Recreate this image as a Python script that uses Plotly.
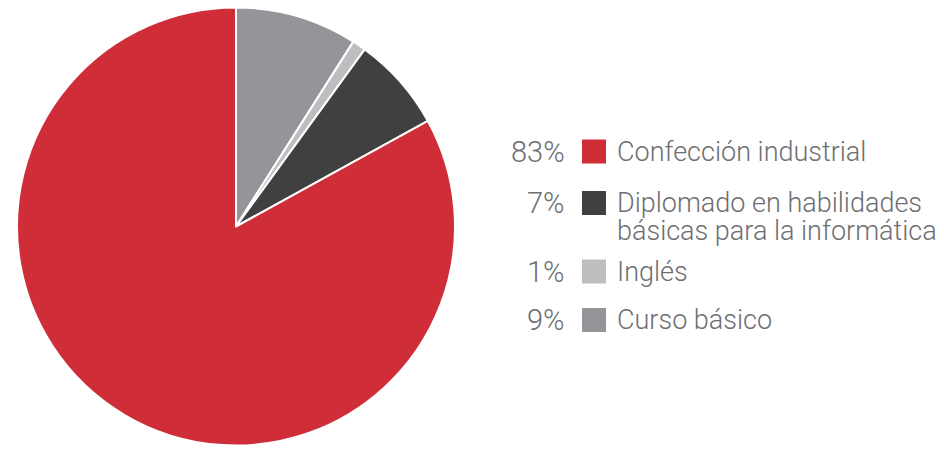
import plotly.graph_objects as go

labels = ["Confección industrial",
          "Diplomado en habilidades<br>básicas para la informática",
          "Inglés",
          "Curso básico"]
values = [83, 7, 1, 9]
colors = ["#CF2E38", "#404041", "#BCBEC0", "#939598"]

W, H = 944, 449
row_y = [151.5, 203, 271.5, 320]   # pixel centers of legend rows (first line)
line_gap = 28

def px(x):
    return x / W

def py(y):
    return 1 - y / H

# slices drawn clockwise from 12 o'clock in reverse legend order
fig = go.Figure(go.Pie(
    labels=[l.replace("<br>", " ") for l in labels][::-1],
    values=values[::-1],
    marker=dict(colors=colors[::-1], line=dict(color="white", width=2)),
    sort=False,
    direction="clockwise",
    rotation=0,
    textinfo="none",
    hoverinfo="label+percent",
    domain=dict(x=[px(17), px(455)], y=[py(446), py(7)]),
    showlegend=False,
))

annotations = []
shapes = []
text_color = "#6D6E71"
font_family = "Roboto, 'DejaVu Sans', sans-serif"
for lab, val, col, yc in zip(labels, values, colors, row_y):
    annotations.append(dict(
        x=px(567), y=py(yc), xref="paper", yref="paper",
        xanchor="right", yanchor="middle", showarrow=False,
        text=f"{val}%",
        font=dict(family=font_family, size=29, color=text_color, weight=300),
    ))
    shapes.append(dict(
        type="rect", xref="paper", yref="paper",
        x0=px(582), x1=px(606), y0=py(yc - 12), y1=py(yc + 12),
        fillcolor=col, line=dict(width=0),
    ))
    for i, part in enumerate(lab.split("<br>")):
        annotations.append(dict(
            x=px(615), y=py(yc + i * line_gap), xref="paper", yref="paper",
            xanchor="left", yanchor="middle", showarrow=False,
            text=part,
            font=dict(family=font_family, size=27, color=text_color, weight=300),
        ))

fig.update_layout(
    width=W, height=H,
    margin=dict(l=0, r=0, t=0, b=0),
    paper_bgcolor="white", plot_bgcolor="white",
    annotations=annotations, shapes=shapes,
)

fig.write_html("out.html", config={"displayModeBar": False},
               post_script="document.body.style.margin='0';")
